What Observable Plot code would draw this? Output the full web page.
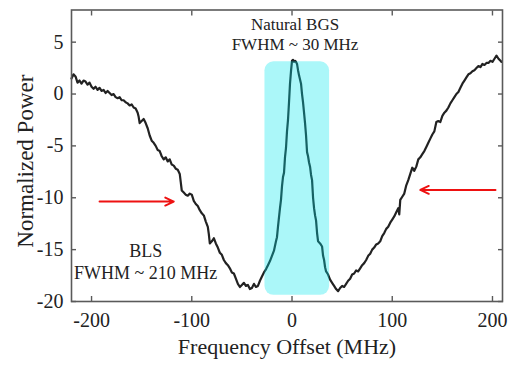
<!DOCTYPE html>
<html>
<head>
<meta charset="utf-8">
<script src="https://cdn.jsdelivr.net/npm/d3@7"></script>
<script src="https://cdn.jsdelivr.net/npm/@observablehq/plot@0.6"></script>
<style>
  html, body { margin: 0; padding: 0; background: #fff; }
  svg { display: block; }
</style>
</head>
<body>
<div id="chart"></div>
<script>
// Frequency offset (MHz) and normalized power
const freq = [
  -220,-218,-216,-214,-212,-210,-208,-206,-204,-202,-200,-198,-196,-194,-192,-190,-188,-186,-184,-182,
  -180,-178,-176,-174,-172,-170,-168,-166,-164,-162,-160,-158,-156,-154,-153,-152,-150,-148,-146,-144,
  -142,-140,-138,-136,-134,-132,-130,-128,-126,-124,-122,-120,-118,-116,-114,-112,-111,-110,-108,-106,
  -104,-102,-100,-98,-96,-94,-92,-90,-88,-86,-84,-83,-82,-80,-78,-76,-74,-72,-70,-68,
  -66,-64,-62,-60,-58,-56,-54,-52,-50,-48,-46,-44,-42,-40,-38,-36,-34,-32,-30,-28,
  -26,-24,-22,-20,-18,-16,-15,-14,-13,-12,-11,-10,-9,-8,-7,-6,-5,-4,-3,-2,
  -1,0,1,2,3,4,5,6,7,8,9,10,11,12,13,14,15,16,17,18,
  19,20,21,22,23,24,25,26,28,30,31,32,33,34,36,38,40,42,44,46,
  48,50,52,54,56,58,60,62,64,66,68,70,72,74,76,78,80,82,84,86,
  88,90,92,94,96,98,100,102,104,106,107,108,110,112,114,116,118,120,122,124,
  126,128,130,132,134,136,138,140,142,144,146,148,150,152,154,156,158,160,162,164,
  166,168,170,172,174,176,178,180,182,184,186,188,190,192,194,196,198,200,202,204,
  206,208,209
];
const power = [
  1.5,1.9,1.7,1.1,1.3,1.0,1.3,1.2,0.9,1.1,0.7,0.5,0.7,0.4,0.6,0.3,0.4,0.1,0.3,0.1,
  -0.1,0.0,-0.3,-0.4,-0.3,-0.6,-0.6,-0.8,-0.9,-1.1,-1.0,-1.3,-1.4,-1.8,-2.2,-2.8,-2.6,-2.4,-2.8,-3.3,
  -4.0,-4.5,-4.7,-5.0,-5.4,-5.5,-6.0,-6.3,-6.1,-6.5,-6.3,-6.8,-6.9,-7.2,-7.3,-7.7,-8.5,-9.3,-9.5,-9.7,
  -9.8,-9.6,-9.7,-10.3,-10.6,-10.8,-11.2,-11.5,-11.7,-12.3,-12.8,-13.5,-14.4,-14.2,-13.9,-14.4,-14.8,-15.3,-15.5,-16.0,
  -16.3,-16.5,-16.8,-17.2,-17.3,-17.8,-18.3,-18.6,-18.4,-18.2,-18.5,-18.4,-18.8,-18.7,-18.3,-18.6,-18.5,-18.0,-17.6,-17.2,
  -16.9,-16.5,-16.1,-15.6,-15.1,-14.2,-13.8,-12.8,-11.9,-11.0,-10.2,-8.9,-8.0,-7.6,-6.1,-5.2,-3.6,-2.5,-0.8,1.0,
  2.2,3.2,3.3,3.1,3.2,3.1,2.9,2.3,1.8,1.4,1.0,0.0,-0.8,-1.8,-2.8,-4.0,-5.6,-6.0,-6.6,-7.0,
  -7.8,-8.3,-10.0,-11.0,-11.7,-12.2,-13.4,-14.2,-14.4,-14.7,-15.6,-16.0,-16.7,-17.1,-17.4,-17.9,-18.2,-18.5,-18.8,-19.0,
  -18.7,-18.5,-18.6,-18.3,-18.0,-17.8,-17.4,-17.3,-17.0,-17.1,-16.8,-16.5,-16.3,-16.0,-15.6,-15.4,-15.0,-14.8,-14.5,-14.4,
  -14.2,-13.7,-13.4,-13.0,-12.8,-12.4,-12.1,-11.8,-11.4,-11.0,-11.6,-10.2,-9.9,-9.6,-8.8,-8.3,-7.7,-7.1,-7.4,-7.0,
  -6.3,-6.1,-5.8,-5.5,-5.1,-4.7,-4.3,-3.9,-3.6,-2.7,-2.6,-2.7,-2.1,-1.8,-1.6,-1.3,-0.9,-0.6,-0.3,0.0,
  0.2,0.6,1.0,1.3,1.6,1.9,2.0,2.2,2.3,2.5,2.7,2.6,2.9,2.8,3.0,3.0,3.2,3.1,3.4,3.7,
  3.4,3.2,3.1
];

// Highlighted Natural BGS band
const bandX1 = [-27];
const bandX2 = [37.5];
const bandY1 = [-19.4];
const bandY2 = [3.1];

// Arrows marking the BLS FWHM level
const arrowX1 = [-192, 203];
const arrowX2 = [-118, 128];
const arrowY = [-10.37, -9.24];

// Annotations
const noteText = ["Natural BGS\nFWHM ~ 30 MHz", "BLS\nFWHM ~ 210 MHz"];
const noteX = [3, -146];
const noteY = [5.85, -16.1];

// Axis ticks
const xTicks = [-200, -100, 0, 100, 200];
const yTicks = [5, 0, -5, -10, -15, -20];

const xLabel = "Frequency Offset (MHz)";
const yLabel = "Normalized Power";

const curve = freq.map((f, i) => ({f, p: power[i]}));
const band = bandX1.map((x1, i) => ({x1, x2: bandX2[i], y1: bandY1[i], y2: bandY2[i]}));
const arrows = arrowX1.map((x1, i) => ({x1, x2: arrowX2[i], y: arrowY[i]}));
const notes = noteText.map((t, i) => ({t, x: noteX[i], y: noteY[i]}));

const font = "'Liberation Serif', 'DejaVu Serif', serif";
const axisColor = "#5a5a5a";
const fmt = d => String(d);

const chart = Plot.plot({
  width: 514,
  height: 369,
  marginLeft: 71,
  marginRight: 12,
  marginTop: 9.5,
  marginBottom: 68,
  style: {fontFamily: font, fontSize: "20px", color: "#222", background: "#fff"},
  x: {domain: [-220, 210]},
  y: {domain: [-20, 8.1]},
  marks: [
    Plot.line(curve, {x: "f", y: "p", stroke: "#222", strokeWidth: 2.2}),
    Plot.rect(band, {x1: "x1", x2: "x2", y1: "y1", y2: "y2", fill: "#00e8ee", fillOpacity: 0.33, rx: 9}),
    Plot.arrow(arrows, {x1: "x1", x2: "x2", y1: "y", y2: "y", stroke: "#ee1111", strokeWidth: 2, headLength: 7, headAngle: 50}),
    Plot.text(notes.slice(0, 1), {x: "x", y: "y", text: "t", fontSize: 17, lineHeight: 1.18, fill: "#222"}),
    Plot.text(notes.slice(1), {x: "x", y: "y", text: "t", fontSize: 18, lineHeight: 1.22, fill: "#222"}),
    Plot.frame({stroke: axisColor, strokeWidth: 1.6}),
    Plot.axisX(xTicks, {anchor: "bottom", tickSize: -5, text: null, label: null, stroke: axisColor, strokeWidth: 1.4}),
    Plot.axisX(xTicks, {anchor: "top", tickSize: -5, text: null, label: null, stroke: axisColor, strokeWidth: 1.4}),
    Plot.axisY(yTicks, {anchor: "left", tickSize: -5, text: null, label: null, stroke: axisColor, strokeWidth: 1.4}),
    Plot.axisY(yTicks, {anchor: "right", tickSize: -5, text: null, label: null, stroke: axisColor, strokeWidth: 1.4}),
    Plot.axisX(xTicks, {anchor: "bottom", tickSize: 0, tickPadding: 11, label: null, fontSize: 20, fill: "#222", tickFormat: fmt}),
    Plot.axisY(yTicks, {anchor: "left", tickSize: 0, tickPadding: 8, label: null, fontSize: 20, fill: "#222", tickFormat: fmt}),
    Plot.text([xLabel], {frameAnchor: "bottom", textAnchor: "middle", dy: 52, fontSize: 22, fill: "#222"}),
    Plot.text([yLabel], {frameAnchor: "left", textAnchor: "middle", rotate: -90, dx: -45.4, dy: 5.4, fontSize: 23, fill: "#222"})
  ]
});
document.getElementById("chart").appendChild(chart);
</script>
</body>
</html>
